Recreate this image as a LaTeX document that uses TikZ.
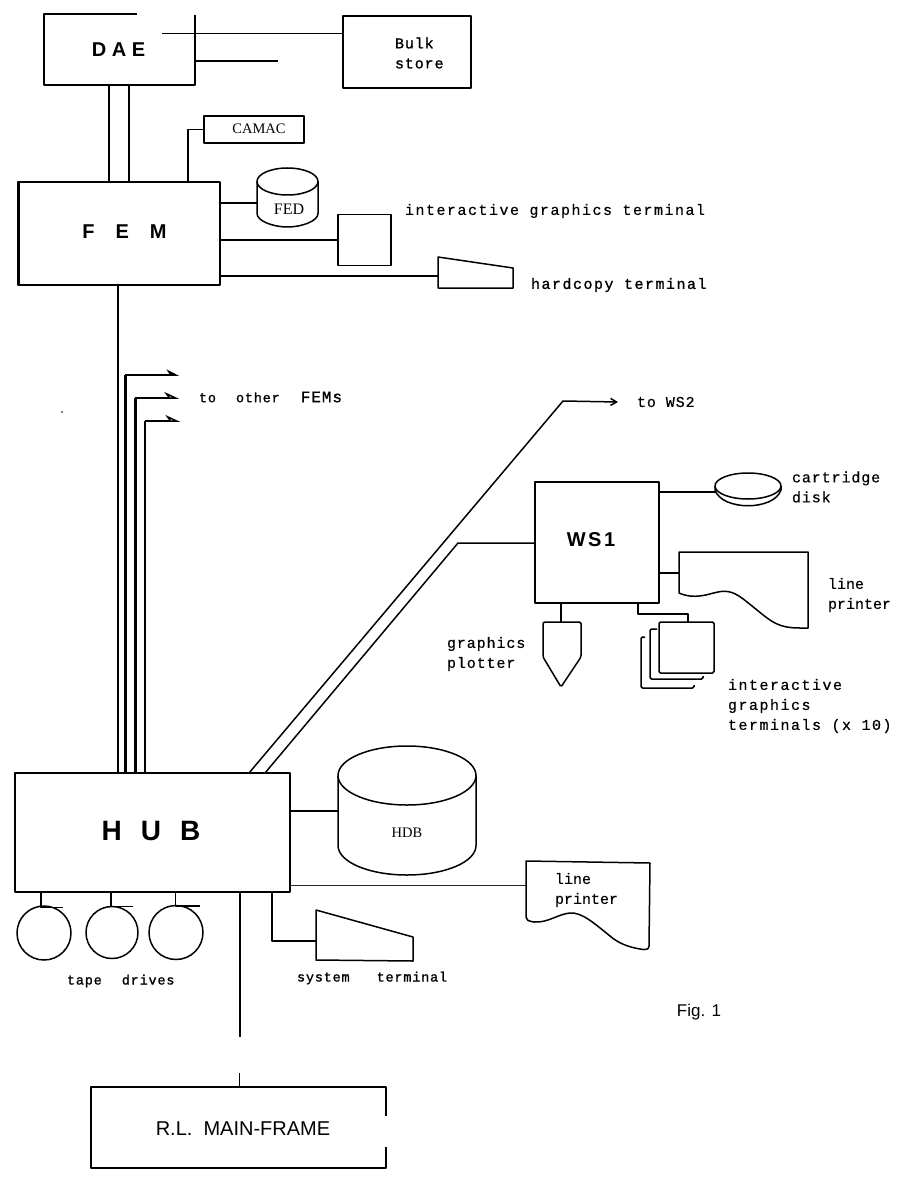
\documentclass[tikz,border=0pt]{standalone}
\usepackage{fontspec}
\setmainfont{Liberation Sans}
\newfontfamily\twfont[LetterSpace=6,FakeBold=0.5]{Liberation Mono}
\newfontfamily\twwide[LetterSpace=10,FakeBold=0.5]{Liberation Mono}
\newfontfamily\twnarrow[FakeBold=0.5]{Liberation Mono}
\newfontfamily\twbold[LetterSpace=6,FakeBold=1.2]{Liberation Mono}
\newfontfamily\twboldwide[LetterSpace=10,FakeBold=1.2]{Liberation Mono}
\newfontfamily\sfb{Liberation Serif}
\usetikzlibrary{shapes.geometric,arrows.meta,calc}
\tikzset{
  ln/.style={line width=1.5pt,line join=round,black},
  thin ln/.style={line width=0.9pt,line join=round,black!85},
  thick ln/.style={line width=2.4pt,line join=round,black},
  box/.style={ln,draw,rectangle,inner sep=0pt,outer sep=0pt},
  ghost/.style={rectangle,inner sep=0pt,outer sep=0pt},
  tw/.style={inner sep=0pt,outer sep=0pt,anchor=west,align=left,font=\twfont\fontsize{15}{20}\selectfont},
  twb/.style={tw,font=\twbold\fontsize{15}{20}\selectfont},
  twbw/.style={tw,font=\twboldwide\fontsize{15}{20}\selectfont},
  twn/.style={tw,font=\twnarrow\fontsize{15}{20}\selectfont},
  tww/.style={tw,font=\twwide\fontsize{15}{20}\selectfont},
  tws/.style={tw,font=\twbold\fontsize{13.5}{18}\selectfont},
  serif/.style={inner sep=0pt,outer sep=0pt,font=\sfb\fontsize{14.5}{16}\selectfont},
  head/.style={inner sep=0pt,outer sep=0pt,font=\bfseries\fontsize{#1}{#1}\selectfont},
  oval/.style={ln,draw,ellipse,inner sep=0pt,outer sep=0pt},
  harp/.style={-{Stealth[harpoon,length=11pt,width=11pt]}},
  harpo/.style={-{Stealth[harpoon,open,length=13pt,width=12pt,fill=white]}},
}
\begin{document}
\begin{tikzpicture}[x=1pt,y=-1pt]
\useasboundingbox (0,0) rectangle (911,1177);
% --- DAE and bulk store
\node[ghost,minimum width=151pt,minimum height=71pt] (dae) at (119.5,49.5) {};
\node[head=20] (daet) at (118.5,50) {D A E};
\draw[thick ln,line width=2pt] (137,14 |- dae.north) -- (dae.north west) -- (dae.south west) -- (dae.south east) -- (195,15);
\node[box,minimum width=128pt,minimum height=72pt] (bulk) at (407,52) {};
\node[twb] (bulkt) at (395,53) {Bulk\\store};
\coordinate (bus1) at (162,33.5);
\coordinate (bus2) at (278,61);
\draw[ln] (bus1) -- (bus1 -| bulk.west);
\draw[ln] (dae.east |- bus2) -- (bus2);
% --- FEM
\node[box,minimum width=202pt,minimum height=103pt] (fem) at (119,233.5) {};
\node[head=20] (femt) at (124.5,232) {F\hspace{21pt}E\hspace{21pt}M};
\draw[thick ln,line width=3pt] (fem.south west) -- (fem.north west);
\draw[thick ln,line width=2.4pt] (fem.south west) -- (118,285);
\draw[thick ln,line width=2pt] (fem.north west) -- (fem.north);
\draw[thick ln,line width=2pt] (109,0 |- dae.south) -- (109,0 |- fem.north);
\draw[thick ln,line width=2.4pt] (129,0 |- dae.south) -- (129,0 |- fem.north);
\node[box,line width=1.7pt,minimum width=100pt,minimum height=27pt] (camac) at (254,129.5) {};
\node[serif] (camact) at (259,129) {CAMAC};
\draw[ln] (188,0 |- fem.north) |- (camac.west);
\node[oval,minimum width=61pt,minimum height=27pt] (fed) at (287.5,181.5) {};
\draw[ln] (fed.west) -- (257,213.5) .. controls (257,221) and (273,227) .. (287.5,227) .. controls (302,227) and (318,221) .. (318,213.5) -- (fed.east);
\node[serif,font=\sfb\fontsize{16}{16}\selectfont] (fedt) at (289,209) {FED};
\draw[ln] (fem.east |- 0,203) -- (fed.west |- 0,203);
\node[box,minimum width=53pt,minimum height=51pt] (igt) at (364.5,240) {};
\draw[ln] (fem.east |- igt.west) -- (igt.west);
\node[tww] (igtt) at (405,211) {interactive graphics terminal};
\node[ghost,minimum width=75pt,minimum height=31pt] (hc) at (475.5,272.5) {};
\draw[ln] (hc.north west) -- (513,268) -- (hc.south east) -- (hc.south west) -- cycle;
\draw[ln] (fem.east |- 0,276) -- (hc.west |- 0,276);
\node[twbw] (hct) at (531,285) {hardcopy terminal};
% --- HUB
\node[box,minimum width=275pt,minimum height=119pt] (hub) at (152.5,832.5) {};
\node[head=28] (hubt) at (151,831) {H\hspace{19pt}U\hspace{19pt}B};
\draw[thick ln] (118,0 |- fem.south) -- (118,0 |- hub.north);
\coordinate (o1) at (179,375);
\coordinate (o2) at (179,398);
\coordinate (o3) at (180,421);
\draw[thick ln,line width=3.6pt] (125.5,0 |- hub.north) -- (125.5,375);
\draw[ln,harp] (125,375) -- (o1);
\draw[thick ln,line width=2.2pt] (135.5,0 |- hub.north) -- (135.5,398);
\draw[ln,harpo] (135,398) -- (o2);
\draw[thick ln,line width=1.8pt] (145,0 |- hub.north) -- (145,421);
\draw[ln,harpo] (145,421) -- (o3);
\node[tws] (fems) at (199,397) {to\hspace{20pt}other\hspace{21pt}{\fontsize{16}{18}\selectfont FEMs}};
% --- WS1
\node[box,minimum width=124pt,minimum height=121pt] (ws1) at (597,542.5) {};
\node[head=20] (ws1t) at (591,540) {W\hspace{2.5pt}S\hspace{2.5pt}1};
\coordinate (ws2) at (618,402);
\coordinate (kink1) at (563,401);
\coordinate (kink2) at (458,543);
\draw[ln,-{Straight Barb[length=6pt,width=7pt]}] (249,0 |- hub.north) -- (kink1) -- (ws2);
\draw[ln] (265,0 |- hub.north) -- (kink2) -- (kink2 -| ws1.west);
\node[tw] (ws2t) at (637,402) {to WS2};
% cartridge disk
\node[oval,minimum width=66pt,minimum height=26pt] (disk) at (748,486) {};
\draw[ln] (disk.west) -- ++(0,4) .. controls (722,511) and (774,511) .. (781,490) -- (disk.east);
\draw[ln] (ws1.east |- 0,492) -- (715.5,492);
\node[tw] (diskt) at (792,487) {cartridge\\disk};
% line printer of WS1
\node[ghost,minimum width=129pt,minimum height=76pt] (lp1) at (743.5,590) {};
\draw[ln] (lp1.north west) -- (lp1.north east) -- (lp1.south east) -- (800,628) .. controls (775,628) and (770,620) .. (747,602) .. controls (735,592) and (728,590) .. (718,592) .. controls (708,594) and (695,600) .. (679,593) -- cycle;
\draw[ln] (ws1.east |- 0,573) -- (lp1.west |- 0,573);
\node[twn] (lp1t) at (828,595) {line\\printer};
% graphics plotter
\node[ghost,minimum width=38pt,minimum height=65pt] (plot) at (562,654.5) {};
\draw[ln,rounded corners=1.5pt] (plot.north west) -- (plot.north east) -- (581,657) -- (561,687) -- (543,657) -- cycle;
\draw[ln] (561,0 |- ws1.south) -- (561,0 |- plot.north);
\node[tw] (plott) at (447,654) {graphics\\plotter};
% terminals
\node[box,rounded corners=1.5pt,minimum width=55pt,minimum height=51pt] (wt1) at (686.5,647.5) {};
\draw[ln,rounded corners=1.5pt] (657,629) -- (650,629) -- (650,679) -- (703,679) -- (703,676);
\draw[ln,rounded corners=1.5pt] (645,637) -- (641,637) -- (641,688) -- (694,688) -- (694,685);
\draw[ln] (638,0 |- ws1.south) -- (638,614) -- (688,614) -- (688,0 |- wt1.north);
\node[tww] (wt1t) at (728,706) {interactive\\graphics\\terminals (x 10)};
% --- HUB peripherals
\node[oval,minimum width=138pt,minimum height=59pt] (hdb) at (407,775.5) {};
\draw[ln] (hdb.west) -- (338,845.5) .. controls (338,862) and (369,875) .. (407,875) .. controls (445,875) and (476,862) .. (476,845.5) -- (hdb.east);
\node[serif] (hdbt) at (407,833) {HDB};
\draw[ln] (hub.east |- 0,811) -- (hdb.west |- 0,811);
% line printer of HUB
\node[ghost,minimum width=124pt,minimum height=89pt] (lp2) at (588,905.5) {};
\draw[ln] (lp2.north west) -- (650,863) -- (649,946) .. controls (649,950) and (645,950) .. (640,949) .. controls (628,947) and (618,943) .. (610,936) .. controls (595,924) and (582,912) .. (570,913) .. controls (558,914) and (548,923) .. (534,922) .. controls (528,921) and (526,920) .. (526,917) -- cycle;
\draw[thin ln] (hub.east |- 0,885) -- (lp2.west |- 0,885);
\node[twn] (lp2t) at (555,890) {line\\printer};
% system terminal
\node[ghost,minimum width=97pt,minimum height=51pt] (st) at (364.5,935.5) {};
\draw[ln] (st.north west) -- (413,937) -- (413,961) -- (316,960) -- cycle;
\draw[ln] (272,0 |- hub.south) |- (st.west |- 0,941);
\node[tws] (stt) at (297,978) {system\hspace{27pt}terminal};
% tape drives
\node[ln,draw,circle,inner sep=0pt,outer sep=0pt,minimum size=54pt] (t1) at (44,933) {};
\node[ln,draw,circle,inner sep=0pt,outer sep=0pt,minimum size=52pt] (t2) at (112,932.5) {};
\node[ln,draw,circle,inner sep=0pt,outer sep=0pt,minimum size=54pt] (t3) at (176,932.5) {};
\draw[ln] (41,0 |- hub.south) -- (41,907.5) -- (63,907.5);
\draw[ln] (111,0 |- hub.south) -- (111,906.5) -- (133,906.5);
\draw[ln] (175.5,0 |- hub.south) -- (175.5,906) -- (200,906);
\node[tws] (tapet) at (67,981) {tape\hspace{20pt}drives};
% --- main frame
\node[ghost,minimum width=295pt,minimum height=81pt] (mf) at (238.5,1127.5) {};
\draw[ln,line width=1.8pt] (386,1116) -- (mf.north east) -- (mf.north west) -- (mf.south west) -- (mf.south east) -- (386,1147);
\node[inner sep=0pt,outer sep=0pt,font=\fontsize{20}{20}\selectfont] (mft) at (243,1129) {R.L.\ \ MAIN-FRAME};
\coordinate (gap) at (240,960);
\coordinate (stubtop) at (239.5,1073);
\draw[ln] (240,0 |- hub.south) -- (gap);
\draw[thick ln,line width=2.6pt] (gap) -- (240,1037);
\draw[ln] (stubtop) -- (stubtop |- mf.north);
\node[inner sep=0pt,outer sep=0pt,font=\fontsize{17}{17}\selectfont] (fig) at (699,1012) {Fig. 1};
\fill (62,412) circle (0.8pt);
\end{tikzpicture}
\end{document}
